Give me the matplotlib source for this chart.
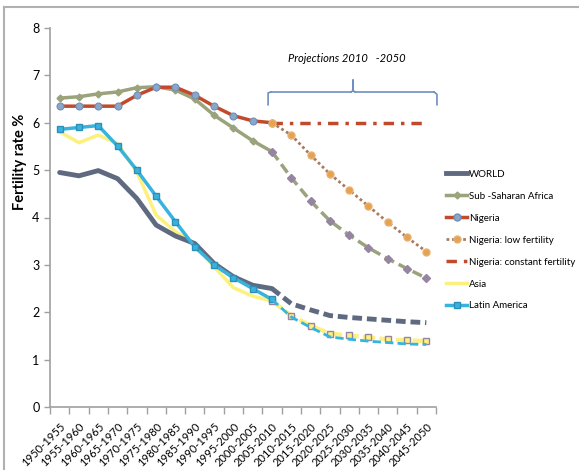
import matplotlib
matplotlib.use("Agg")
import matplotlib.pyplot as plt
from matplotlib.lines import Line2D
import numpy as np

plt.rcParams['font.family'] = ['Lato', 'DejaVu Sans']

periods = ["1950-1955", "1955-1960", "1960-1965", "1965-1970", "1970-1975",
           "1975-1980", "1980-1985", "1985-1990", "1990-1995", "1995-2000",
           "2000-2005", "2005-2010", "2010-2015", "2015-2020", "2020-2025",
           "2025-2030", "2030-2035", "2035-2040", "2040-2045", "2045-2050"]

# historical (1950-2010, 12 periods)
world_hist = [4.95, 4.88, 4.99, 4.82, 4.40, 3.84, 3.61, 3.45, 3.03, 2.75, 2.57, 2.50]
ssa_hist = [6.52, 6.55, 6.61, 6.65, 6.74, 6.76, 6.69, 6.50, 6.16, 5.89, 5.62, 5.39]
nigeria_hist = [6.35, 6.35, 6.35, 6.35, 6.58, 6.75, 6.75, 6.58, 6.35, 6.15, 6.04, 6.00]
asia_hist = [5.81, 5.58, 5.74, 5.56, 4.96, 4.05, 3.70, 3.45, 2.96, 2.52, 2.34, 2.24]
latam_hist = [5.86, 5.90, 5.94, 5.51, 5.00, 4.45, 3.91, 3.38, 3.00, 2.73, 2.50, 2.27]

# projections (2005-2010 to 2045-2050, 9 periods)
world_proj = [2.50, 2.18, 2.05, 1.93, 1.89, 1.86, 1.83, 1.80, 1.78]
ssa_proj = [5.39, 4.84, 4.35, 3.93, 3.63, 3.36, 3.13, 2.92, 2.72]
nig_low = [6.00, 5.74, 5.32, 4.92, 4.58, 4.24, 3.90, 3.58, 3.28]
nig_const = [6.00, 6.00, 6.00, 6.00, 6.00, 6.00, 6.00, 6.00, 6.00]
asia_proj = [2.24, 1.93, 1.72, 1.55, 1.51, 1.47, 1.43, 1.41, 1.39]
latam_proj = [2.27, 1.90, 1.68, 1.48, 1.43, 1.39, 1.36, 1.33, 1.32]

c_world = "#5f6a80"
c_ssa = "#9ba37c"
c_nig = "#c24a2c"
c_low = "#a97a5e"
c_lowm = "#e9a24c"
c_asia = "#fdf07c"
c_latam = "#38b3de"
c_grey_mk = "#9585a0"

fig = plt.figure(figsize=(5.79, 4.70), dpi=100)
ax = fig.add_axes([50/579, 63/470, 386/579, 379/470])

xh = np.arange(len(world_hist))
xp = np.arange(len(world_hist) - 1, len(periods))

# historical lines
ax.plot(xh, asia_hist, color=c_asia, lw=2.5, zorder=3)
ax.plot(xh, latam_hist, color=c_latam, lw=2.5, marker='s', ms=4.5,
        mfc=c_latam, mec="#2d8fb8", mew=1, zorder=4)
ax.plot(xh, world_hist, color=c_world, lw=3.5, zorder=3, solid_capstyle='round')
ax.plot(xh, ssa_hist, color=c_ssa, lw=2.5, marker='D', ms=3.5,
        mfc=c_ssa, mec=c_ssa, zorder=3)
ax.plot(xh, nigeria_hist, color=c_nig, lw=2.5, marker='o', ms=5,
        mfc="#8aa6c8", mec="#6f8fb8", mew=0.8, zorder=4)

# projection lines
ax.plot(xp, world_proj, color=c_world, lw=3.5, ls=(0, (2.0, 1.0)), zorder=3)
ax.plot(xp, ssa_proj, color=c_ssa, lw=2.5, ls=(0, (3, 1.5)), marker='D', ms=4,
        mfc=c_grey_mk, mec=c_grey_mk, zorder=3)
ax.plot(xp, nig_low, color=c_low, lw=2, ls=(0, (1, 1)), marker='o', ms=5,
        mfc=c_lowm, mec="#e8b070", zorder=4)
ax.plot(xp, nig_const, color=c_nig, lw=2.5, ls=(0, (3, 2, 1, 2)), zorder=3)
ax.plot(xp, asia_proj, color=c_asia, lw=3, ls=(0, (3, 1)), marker='s', ms=5,
        mfc=c_asia, mec=c_grey_mk, mew=1, zorder=3)
ax.plot(xp, latam_proj, color=c_latam, lw=2, ls=(0, (3, 1.5)), zorder=4)

# axes styling
ax.set_xlim(-0.5, len(periods) - 0.5)
ax.set_ylim(0, 8)
ax.set_yticks(range(0, 9))
ax.set_xticks(np.arange(len(periods)))
ax.set_xticklabels(periods, rotation=45, ha='right', rotation_mode='anchor', fontsize=8)
ax.set_xticks(np.arange(-0.5, len(periods)), minor=True)
ax.tick_params(axis='x', which='major', length=0, pad=10)
ax.tick_params(axis='x', which='minor', length=5, color="#a0a0a0", width=1)
ax.tick_params(axis='y', length=4, color="#a0a0a0", width=1, labelsize=9)
for s in ['top', 'right']:
    ax.spines[s].set_visible(False)
for s in ['left', 'bottom']:
    ax.spines[s].set_color("#a0a0a0")
    ax.spines[s].set_linewidth(1.2)

ax.set_ylabel("Fertility rate %", fontsize=10.5, fontweight='bold')
ax.yaxis.set_label_coords(-0.06, 0.646)

# brace over projections
bx0, bx1, bxm = 10.8, 19.55, 15.2
ax.plot([bx0, bx0, bx0 + 0.15], [6.38, 6.63, 6.65], color="#6f8fbf", lw=1.2, clip_on=False)
ax.plot([bx0 + 0.15, bxm - 0.1], [6.65, 6.65], color="#6f8fbf", lw=1.2, clip_on=False)
ax.plot([bxm - 0.1, bxm, bxm, bxm, bxm + 0.1], [6.65, 6.68, 6.9, 6.68, 6.65],
        color="#6f8fbf", lw=1.2, clip_on=False)
ax.plot([bxm + 0.1, bx1 - 0.15], [6.65, 6.65], color="#6f8fbf", lw=1.2, clip_on=False)
ax.plot([bx1 - 0.15, bx1, bx1], [6.65, 6.6, 6.38], color="#6f8fbf", lw=1.2, clip_on=False)
ax.text(14.9, 7.36, "Projections 2010   -2050", style='italic', fontsize=8,
        ha='center', va='center')

# legend
handles = [
    Line2D([], [], color=c_world, lw=3.5),
    Line2D([], [], color=c_ssa, lw=2.5, marker='D', ms=3.5, mfc=c_ssa, mec=c_ssa),
    Line2D([], [], color=c_nig, lw=2.5, marker='o', ms=5, mfc="#8aa6c8", mec="#6f8fb8"),
    Line2D([], [], color=c_low, lw=2, ls=(0, (1, 1)), marker='o', ms=5, mfc=c_lowm, mec="#e8b070"),
    Line2D([], [], color=c_nig, lw=2.5, ls=(0, (3, 2, 1, 2))),
    Line2D([], [], color=c_asia, lw=2.5),
    Line2D([], [], color=c_latam, lw=2.5, marker='s', ms=4.5, mfc=c_latam, mec="#2d8fb8"),
]
labels = ["WORLD", "Sub -Saharan Africa", "Nigeria", "Nigeria: low fertility",
          "Nigeria: constant fertility", "Asia", "Latin America"]
fig.legend(handles, labels, loc='upper left', bbox_to_anchor=(442/579, 1 - 166/470),
           frameon=False, handlelength=2.2, handletextpad=0.2,
           labelspacing=1.33, borderaxespad=0,
           prop={'family': ['Lato'], 'size': 7.0})

# outer chart border
fig.add_artist(Line2D([4/579, 4/579], [0, 1 - 7/470], color="#b0b0b0", lw=1.5,
                      transform=fig.transFigure))
fig.add_artist(Line2D([4/579, 1], [1 - 7/470, 1 - 7/470], color="#b0b0b0", lw=1.5,
                      transform=fig.transFigure))

fig.savefig("out.png", dpi=100)
